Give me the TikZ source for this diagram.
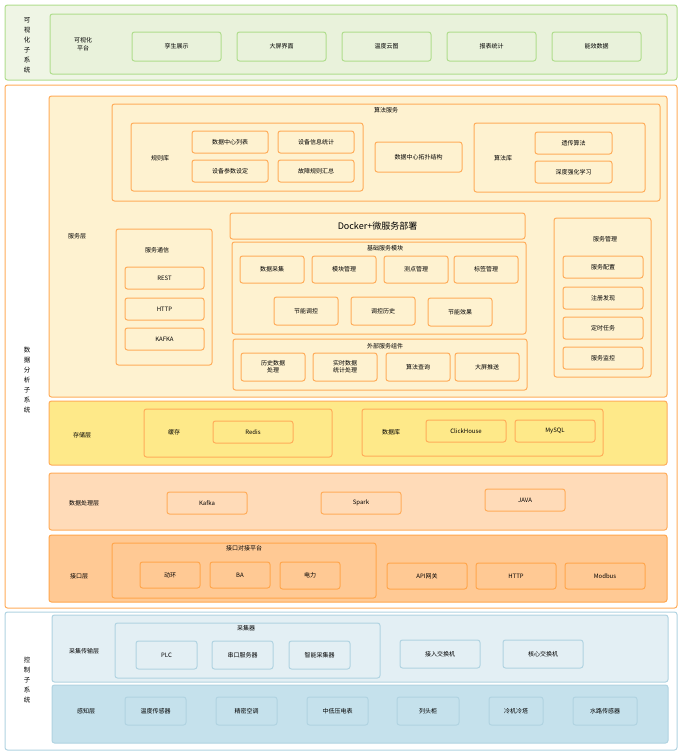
\documentclass[tikz,border=0pt]{standalone}
\usepackage{fontspec}
\setmainfont{Noto Sans CJK SC}
\begin{document}
\begin{tikzpicture}[x=1pt,y=-1pt,
 base/.style={draw,rounded corners=2.5pt,line width=1pt,inner sep=0pt,outer sep=0pt,font=\fontsize{6}{7}\selectfont,align=center},
 gO/.style={base,draw=green!40!olive!45,fill=green!25!olive!10!white},
 gI/.style={base,draw=green!40!olive!45,fill=green!25!olive!14!white},
 oO/.style={base,draw=orange!65,fill=white},
 oS/.style={base,draw=orange!65,fill=yellow!50!orange!17!white},
 oT/.style={base,draw=orange!65,fill=yellow!70!orange!45!white},
 oP/.style={base,draw=orange!65,fill=orange!28!white},
 oI/.style={base,draw=orange!70,fill=orange!42!white},
 bO/.style={base,draw=cyan!30!teal!35,fill=white},
 bA/.style={base,draw=cyan!30!teal!35,fill=cyan!30!teal!12!white},
 bP/.style={base,draw=cyan!30!teal!35,fill=cyan!40!teal!25!white},
 lab/.style={font=\fontsize{6}{7.5}\selectfont,inner sep=0pt,align=center},
 vlab/.style={font=\fontsize{6.5}{10}\selectfont,inner sep=0pt,align=center}]
\newcommand\B[7]{\node[#6,minimum width={#4-#2},minimum height={#5-#3}] (#1) at ({(#2+#4)/2},{(#3+#5)/2}) {#7};}
\useasboundingbox (0,0) rectangle (680,753);
% visualization
\B{vis}{5}{5}{677}{80}{gO}{}
\B{visp}{50}{14}{667}{74}{gI}{}
\node[vlab] (visl) at (27,45) {可\\视\\化\\子\\系\\统};
\node[lab] (vispl) at (83,44) {可视化\\平台};
\B{v1}{132}{32}{221}{61}{gI}{孪生展示}
\B{v2}{237}{32}{326}{61}{gI}{大屏界面}
\B{v3}{342}{32}{431}{61}{gI}{温度云图}
\B{v4}{447}{32}{536}{61}{gI}{报表统计}
\B{v5}{552}{32}{641}{61}{gI}{能效数据}
% data analysis
\B{da}{5}{85}{677}{608}{oO}{}
\node[vlab] (dal) at (27,380) {数\\据\\分\\析\\子\\系\\统};
\B{svc}{49}{96}{667}{397}{oS}{}
\node[lab] (svcl) at (77,236) {服务层};
\B{alg}{112}{104}{660}{201}{oS}{}
\node[lab] (algl) at (386,110) {算法服务};
\B{rule}{131}{123}{363}{191}{oS}{}
\node[lab] (rulel) at (160,158) {规则库};
\B{r1}{192}{131}{268}{153}{oS}{数据中心列表}
\B{r2}{278}{131}{354}{153}{oS}{设备信息统计}
\B{r3}{192}{160}{268}{182}{oS}{设备参数设定}
\B{r4}{278}{160}{354}{182}{oS}{故障规则汇总}
\B{topo}{375}{142}{462}{172}{oS}{数据中心拓扑结构}
\B{alib}{474}{123}{645}{192}{oS}{}
\node[lab] (alibl) at (503,158) {算法库};
\B{a1}{535}{132}{612}{154}{oS}{遗传算法}
\B{a2}{535}{161}{612}{183}{oS}{深度强化学习}
\B{dock}{230}{213}{525}{239}{oS}{\fontsize{9}{10}\selectfont Docker+微服务部署}
\B{comm}{116}{229}{212}{365}{oS}{}
\node[lab] (comml) at (157,250) {服务通信};
\B{c1}{125}{267}{204}{289}{oS}{REST}
\B{c2}{125}{298}{204}{320}{oS}{HTTP}
\B{c3}{125}{328}{204}{350}{oS}{KAFKA}
\B{basic}{232}{242}{526}{334}{oS}{}
\node[lab] (basicl) at (385,248) {基础服务模块};
\B{b1}{240}{256}{304}{283}{oS}{数据采集}
\B{b2}{312}{256}{376}{283}{oS}{模块管理}
\B{b3}{384}{256}{448}{283}{oS}{测点管理}
\B{b4}{454}{256}{518}{283}{oS}{标签管理}
\B{b5}{274}{297}{338}{325}{oS}{节能调控}
\B{b6}{351}{297}{415}{325}{oS}{调控历史}
\B{b7}{428}{298}{492}{326}{oS}{节能效果}
\B{ext}{233}{339}{527}{390}{oS}{}
\node[lab] (extl) at (385,346) {外部服务组件};
\B{e1}{241}{353}{305}{381}{oS}{历史数据\\处理}
\B{e2}{313}{353}{377}{381}{oS}{实时数据\\统计处理}
\B{e3}{386}{353}{450}{381}{oS}{算法查询}
\B{e4}{455}{353}{519}{381}{oS}{大屏推送}
\B{mgmt}{554}{218}{651}{377}{oS}{}
\node[lab] (mgmtl) at (605,239) {服务管理};
\B{m1}{563}{256}{643}{278}{oS}{服务配置}
\B{m2}{563}{287}{643}{309}{oS}{注册发现}
\B{m3}{563}{317}{643}{339}{oS}{定时任务}
\B{m4}{563}{347}{643}{369}{oS}{服务监控}
% storage
\B{sto}{49}{401}{667}{465}{oT}{}
\node[lab] (stol) at (82,435) {存储层};
\B{cache}{144}{409}{332}{457}{oT}{}
\node[lab] (cachel) at (174,432) {缓存};
\B{redis}{213}{421}{293}{443}{oT}{Redis}
\B{db}{362}{409}{603}{456}{oT}{}
\node[lab] (dbl) at (391,432) {数据库};
\B{ck}{426}{420}{506}{442}{oT}{ClickHouse}
\B{my}{515}{420}{595}{442}{oT}{MySQL}
% processing
\B{proc}{49}{473}{667}{530}{oP}{}
\node[lab] (procl) at (84,503) {数据处理层};
\B{kafka}{167}{492}{247}{514}{oP}{Kafka}
\B{spark}{321}{492}{401}{514}{oP}{Spark}
\B{java}{485}{489}{565}{511}{oP}{JAVA}
% interface
\B{intf}{49}{535}{667}{602}{oI}{}
\node[lab] (intfl) at (79,576) {接口层};
\B{plat}{112}{543}{376}{598}{oI}{}
\node[lab] (platl) at (244,548) {接口对接平台};
\B{i1}{140}{562}{200}{588}{oI}{动环}
\B{i2}{210}{562}{270}{588}{oI}{BA}
\B{i3}{280}{562}{340}{589}{oI}{电力}
\B{i4}{387}{563}{467}{589}{oI}{API网关}
\B{i5}{476}{563}{556}{589}{oI}{HTTP}
\B{i6}{565}{563}{645}{589}{oI}{Modbus}
% control
\B{ctl}{5}{612}{677}{750}{bO}{}
\node[vlab] (ctll) at (27,680) {控\\制\\子\\系\\统};
\B{acq}{52}{615}{668}{682}{bA}{}
\node[lab] (acql) at (84,651) {采集传输层};
\B{col}{115}{623}{380}{678}{bA}{}
\node[lab] (coll) at (246,628) {采集器};
\B{p1}{136}{641}{197}{669}{bA}{PLC}
\B{p2}{212}{641}{273}{669}{bA}{串口服务器}
\B{p3}{289}{641}{350}{669}{bA}{智能采集器}
\B{sw1}{400}{640}{480}{668}{bA}{接入交换机}
\B{sw2}{503}{640}{583}{668}{bA}{核心交换机}
\B{per}{52}{685}{668}{743}{bP}{}
\node[lab] (perl) at (86,711) {感知层};
\B{s1}{125}{697}{186}{725}{bP}{温度传感器}
\B{s2}{216}{697}{277}{725}{bP}{精密空调}
\B{s3}{307}{697}{368}{725}{bP}{中低压电表}
\B{s4}{397}{697}{459}{725}{bP}{列头柜}
\B{s5}{489}{697}{543}{725}{bP}{冷机冷塔}
\B{s6}{573}{697}{637}{725}{bP}{水路传感器}
\end{tikzpicture}
\end{document}
